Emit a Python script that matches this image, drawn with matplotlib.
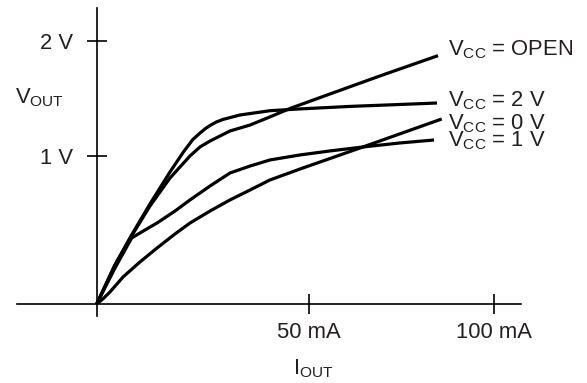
import matplotlib
matplotlib.use("Agg")
import matplotlib.pyplot as plt

# Output characteristics (I_OUT in mA, V_OUT in V)
i_open = [0, 4.31, 8.08, 12.55, 17.26, 21.97, 24.33, 26.69, 31.39, 36.1, 40.81, 45.52, 54.94, 66.72, 80.38]
v_open = [0, 0.264, 0.453, 0.662, 0.851, 1.0, 1.061, 1.101, 1.169, 1.209, 1.264, 1.321, 1.419, 1.541, 1.678]

i_2v = [0, 4.31, 8.08, 12.55, 17.26, 20.5, 22.6, 24.33, 25.6, 26.69, 28.2, 29.75, 33.76, 40.83, 47.88, 59.66, 71.43, 80.15]
v_2v = [0, 0.264, 0.459, 0.676, 0.892, 1.03, 1.11, 1.155, 1.185, 1.206, 1.230, 1.247, 1.277, 1.306, 1.318, 1.335, 1.348, 1.358]

i_0v = [0, 1.5, 3.13, 6.19, 10.2, 14.2, 18.44, 21.97, 26.69, 31.39, 36.1, 40.81, 47.88, 62.72, 81.26]
v_0v = [0, 0.035, 0.081, 0.182, 0.284, 0.378, 0.473, 0.547, 0.628, 0.703, 0.770, 0.838, 0.912, 1.061, 1.25]

i_1v = [0, 4.31, 8.24, 11.38, 14.2, 18.44, 21.97, 26.69, 31.39, 36.1, 40.81, 47.88, 54.94, 62.72, 71.43, 79.44]
v_1v = [0, 0.243, 0.446, 0.500, 0.547, 0.628, 0.703, 0.797, 0.885, 0.932, 0.973, 1.007, 1.034, 1.061, 1.088, 1.108]

curve_labels = ["OPEN", "2 V", "0 V", "1 V"]
label_v = [1.682, 1.333, 1.180, 1.068]

x_ticks = [50, 93.6]
x_tick_labels = ["50 mA", "100 mA"]
y_ticks = [1.0, 1.78]
y_tick_labels = ["1 V", "2 V"]

txt = "#231f20"
plt.rcParams["font.family"] = ["Liberation Sans", "DejaVu Sans"]
plt.rcParams["font.size"] = 15.8
plt.rcParams["mathtext.fontset"] = "custom"
plt.rcParams["mathtext.rm"] = "Liberation Sans"

fig = plt.figure(figsize=(5.87, 3.83), dpi=100)
ax = fig.add_axes([0, 0, 1, 1])
ax.set_xlim(-22.77, 115.47)
ax.set_ylim(-0.534, 2.054)

for xs, ys in [(i_open, v_open), (i_2v, v_2v), (i_0v, v_0v), (i_1v, v_1v)]:
    ax.plot(xs, ys, color="black", lw=2.3, solid_joinstyle="round", solid_capstyle="butt")

# axes drawn through the origin
for side in ["top", "right"]:
    ax.spines[side].set_visible(False)
ax.spines["left"].set_position(("data", 0))
ax.spines["bottom"].set_position(("data", 0))
ax.spines["left"].set_bounds(-0.081, 2.0)
ax.spines["bottom"].set_bounds(-18.8, 99.9)
for side in ["left", "bottom"]:
    ax.spines[side].set_linewidth(1.2)
    ax.spines[side].set_color("black")

ax.set_xticks(x_ticks, x_tick_labels)
ax.set_yticks(y_ticks, y_tick_labels)
ax.tick_params(axis="both", direction="inout", length=15, width=1.2, color="black", labelcolor=txt, labelsize=15.8)
ax.tick_params(axis="y", pad=9.5)
ax.tick_params(axis="x", pad=5.5)

ax.text(-19.24, 1.356, r"$\mathregular{V_{OUT}}$", color=txt, fontsize=15.8, va="baseline", ha="left")
ax.text(46.3, -0.473, r"$\mathregular{I_{OUT}}$", color=txt, fontsize=15.8, va="baseline", ha="left")

for lab, yv in zip(curve_labels, label_v):
    ax.text(82.74, yv, r"$\mathregular{V_{CC}}$ = " + lab, color=txt, fontsize=15.8, va="baseline", ha="left")

fig.savefig("out.png", dpi=100)
